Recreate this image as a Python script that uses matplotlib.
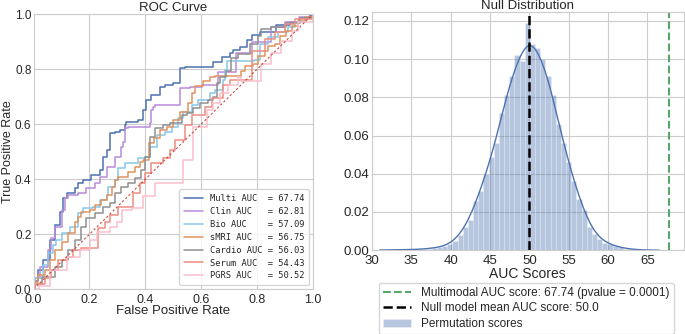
import matplotlib
matplotlib.use("Agg")
import matplotlib.pyplot as plt
import numpy as np
import seaborn as sns

sns.set_style("whitegrid")
plt.rcParams['font.family'] = ['Liberation Sans', 'DejaVu Sans']

# ROC curves (fpr, tpr) corner points
multi_fpr = [0, .005, .017, .035, .058, .076, .094, .106, .118, .148, .16, .178, .207, .237, .249, .263,
             .273, .29, .309, .326, .332, .374, .392, .404, .421, .451, .469, .499, .524, .541, .625, .643,
             .673, .702, .714, .738, .762, .78, .81, .869, .917, .952, .988, 1.0]
multi_tpr = [0, .03, .07, .107, .18, .234, .282, .332, .35, .368, .386, .397, .415, .433, .48, .506,
             .567, .572, .579, .597, .609, .615, .651, .688, .706, .736, .742, .748, .803, .809, .809, .827,
             .845, .857, .869, .881, .906, .924, .936, .96, .972, .985, .997, 1.0]

clin_fpr = [0, .005, .023, .053, .064, .076, .1, .112, .124, .16, .189, .219, .237, .261, .29, .314,
            .32, .326, .338, .404, .416, .421, .427, .434, .499, .524, .559, .601, .66, .726, .78, .851,
            .9, .95, 1.0]
clin_tpr = [0, .04, .082, .143, .186, .227, .288, .33, .343, .35, .367, .385, .409, .445, .48, .518,
            .536, .585, .591, .591, .603, .651, .663, .669, .669, .73, .736, .742, .79, .857, .9, .954,
            .97, .99, 1.0]

bio_fpr = [0, .005, .035, .052, .07, .082, .1, .13, .16, .178, .213, .237, .261, .267, .291, .303,
           .326, .374, .399, .416, .44, .47, .494, .518, .536, .566, .589, .631, .649, .679, .685, .691,
           .79, .81, .839, .875, .911, .935, .97, 1.0]
bio_tpr = [0, .04, .088, .131, .16, .179, .203, .227, .276, .294, .3, .324, .343, .373, .397, .44,
           .458, .476, .482, .518, .561, .573, .591, .621, .645, .669, .688, .712, .724, .76, .797, .83,
           .834, .891, .915, .933, .952, .97, .99, 1.0]

smri_fpr = [0, .005, .017, .041, .058, .076, .1, .124, .148, .16, .171, .201, .219, .243, .261, .279,
            .291, .303, .338, .362, .38, .392, .412, .43, .452, .476, .5, .524, .554, .566, .578, .607,
            .631, .649, .744, .756, .786, .804, .827, .839, .863, .881, .905, .923, .946, .97, 1.0]
smri_tpr = [0, .028, .052, .07, .106, .143, .173, .203, .246, .264, .282, .288, .306, .324, .343, .373,
            .397, .409, .427, .445, .463, .47, .53, .548, .579, .591, .615, .645, .676, .712, .74, .758,
            .77, .775, .794, .812, .818, .848, .866, .885, .891, .921, .939, .957, .973, .988, 1.0]

cardio_fpr = [0, .005, .029, .076, .1, .124, .148, .171, .189, .219, .249, .273, .291, .314, .338, .362,
              .386, .397, .417, .434, .464, .488, .53, .548, .571, .595, .625, .643, .655, .667, .69,
              .708, .732, .774, .804, .815, .851, .905, .952, 1.0]
cardio_tpr = [0, .02, .046, .082, .106, .143, .179, .227, .258, .276, .3, .312, .349, .373, .385, .403,
              .433, .482, .554, .585, .597, .603, .633, .639, .657, .676, .688, .7, .748, .773, .794,
              .842, .855, .891, .921, .946, .954, .966, .985, 1.0]

serum_fpr = [0, .005, .041, .064, .088, .118, .142, .171, .201, .231, .255, .274, .303, .356, .38, .397,
             .421, .464, .488, .506, .541, .566, .613, .637, .679, .702, .78, .827, .863, .899, .935, 1.0]
serum_tpr = [0, .02, .04, .07, .106, .118, .143, .15, .15, .221, .246, .27, .3, .349, .385, .421,
             .458, .476, .506, .542, .597, .633, .663, .694, .742, .76, .866, .909, .933, .963, .982, 1.0]

pgrs_fpr = [0, .018, .06, .119, .167, .202, .226, .274, .298, .316, .351, .392, .434, .493, .536, .571,
            .619, .643, .667, .696, .732, .744, .815, .851, .887, .923, .946, 1.0]
pgrs_tpr = [0, .01, .07, .118, .143, .179, .209, .227, .246, .288, .294, .337, .385, .385, .47, .591,
            .651, .676, .712, .742, .773, .758, .818, .86, .902, .939, .97, 1.0]

model_names = ['Multi', 'Clin', 'Bio', 'sMRI', 'Cardio', 'Serum', 'PGRS']
model_auc = [67.74, 62.81, 57.09, 56.75, 56.03, 54.43, 50.52]
model_colors = ['#4c72b0', '#b98ad8', '#86c8ea', '#e0935f', '#8f8f8f', '#ee8d80', '#f9bfcb']
roc_curves = [(multi_fpr, multi_tpr), (clin_fpr, clin_tpr), (bio_fpr, bio_tpr), (smri_fpr, smri_tpr),
              (cardio_fpr, cardio_tpr), (serum_fpr, serum_tpr), (pgrs_fpr, pgrs_tpr)]

# Null distribution histogram (density per bin)
bin_start = 31.7
bin_width = 0.656
perm_density = [.0003, .0002, .0003, .0002, .0003, .0003, .0005, .0006, .0008, .0012,
                .0015, .002, .003, .005, .008, .012, .016, .026, .031, .040,
                .049, .056, .072, .081, .091, .102, .099, .119, .108, .1056,
                .100, .091, .081, .066, .056, .046, .036, .027, .021, .012,
                .0087, .006, .004, .003, .002, .0015, .0008, .0005, .0003, .0002]
multimodal_auc = 67.74
pvalue = 0.0001
null_mean = 50.0

fig = plt.figure(figsize=(6.85, 3.34), dpi=100)

# ---- ROC curve ----
ax1 = fig.add_axes([0.049, 0.134, 0.408, 0.824])
for (fpr, tpr), name, auc, col in zip(roc_curves, model_names, model_auc, model_colors):
    ax1.plot(fpr, tpr, drawstyle='steps-post', color=col, lw=1.1,
             label=f"{name + ' AUC':<10} = {auc:.2f}")
ax1.plot([0, 1], [0, 1], color='#c0392b', lw=0.8, linestyle=(0, (2, 2)), alpha=0.9)
ax1.set_xlim(0, 1)
ax1.set_ylim(0, 1)
ax1.set_xticks([0, .2, .4, .6, .8, 1.0])
ax1.set_yticks([0, .2, .4, .6, .8, 1.0])
ax1.tick_params(axis='x', labelsize=9, pad=3.5, length=0)
ax1.tick_params(axis='y', labelsize=8.5, pad=1.5, length=0)
ax1.set_title('ROC Curve', fontsize=9.5, pad=2)
ax1.set_xlabel('False Positive Rate', fontsize=9.5, labelpad=-1)
ax1.set_ylabel('True Positive Rate', fontsize=9)
ax1.yaxis.set_label_coords(-0.07, 0.5)
ax1.legend(loc='lower right', prop={'family': 'DejaVu Sans Mono', 'size': 6.3},
           handlelength=2.2, labelspacing=0.45, borderpad=0.5, frameon=True)

# ---- Null distribution ----
ax2 = fig.add_axes([0.543, 0.251, 0.455, 0.713])
edges = bin_start + bin_width * np.arange(len(perm_density))
ax2.bar(edges, perm_density, width=bin_width, align='edge', color='#4c72b0', alpha=0.4,
        edgecolor='white', linewidth=0.4, label='Permutation scores')
# smoothed density line from the histogram
centers = edges + bin_width / 2
xs = np.linspace(31.0, 66.5, 400)
bw = 1.0
kde = np.zeros_like(xs)
for c, h in zip(centers, perm_density):
    kde += h * bin_width * np.exp(-0.5 * ((xs - c) / bw) ** 2) / (bw * np.sqrt(2 * np.pi))
ax2.plot(xs, kde, color='#4c72b0', lw=1.0)
ax2.axvline(multimodal_auc, color='#55a868', lw=1.5, linestyle='--',
            label=f'Multimodal AUC score: {multimodal_auc} (pvalue = {pvalue})')
ax2.axvline(null_mean, color='black', lw=1.8, linestyle='--',
            label=f'Null model mean AUC score: {null_mean}')
ax2.set_xlim(30, 69.6)
ax2.set_ylim(0, 0.1247)
ax2.set_xticks([30, 35, 40, 45, 50, 55, 60, 65])
ax2.set_yticks([0, .02, .04, .06, .08, .10, .12])
ax2.set_yticklabels(['0.00', '0.02', '0.04', '0.06', '0.08', '0.10', '0.12'])
ax2.tick_params(axis='x', labelsize=9.5, pad=3.5, length=0)
ax2.tick_params(axis='y', labelsize=9.5, pad=2, length=0)
ax2.set_title('Null Distribution', fontsize=9.5, pad=2)
ax2.set_xlabel('AUC Scores', fontsize=10, labelpad=0)
handles, labels = ax2.get_legend_handles_labels()
want = ['Multimodal', 'Null', 'Permutation']
order = [next(i for i, l in enumerate(labels) if l.startswith(w)) for w in want]
ax2.legend([handles[i] for i in order], [labels[i] for i in order], loc='upper center',
           bbox_to_anchor=(0.495, -0.112), fontsize=8.5, frameon=True, borderpad=0.35,
           labelspacing=0.3, handlelength=2.4)

fig.savefig('out.png', dpi=100)
